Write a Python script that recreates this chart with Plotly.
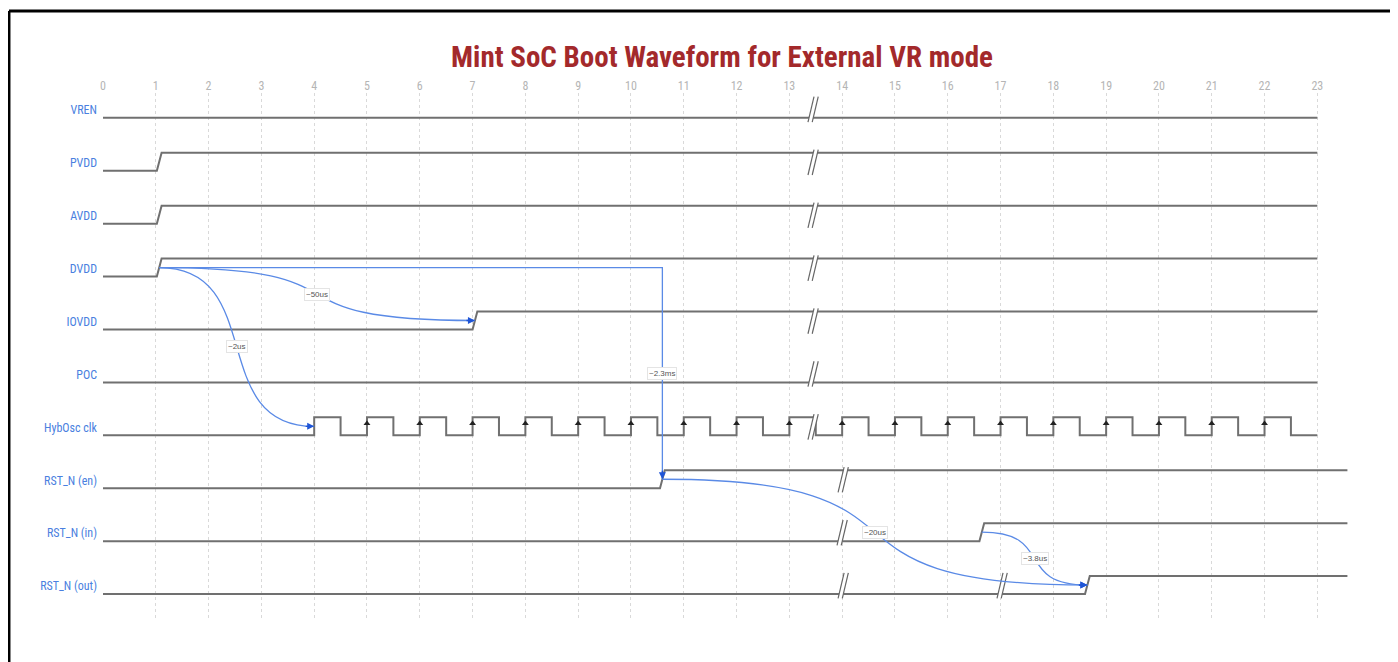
import plotly.graph_objects as go

# ---------------- data ----------------
signals = ["VREN", "PVDD", "AVDD", "DVDD", "IOVDD", "POC", "HybOsc clk",
           "RST_N (en)", "RST_N (in)", "RST_N (out)"]
rise_time = [None, 1.02, 1.02, 1.02, 7.0, None, None, 10.55, 16.6, 18.6]
end_time = [23, 23, 23, 23, 23, 23, 23, 23.57, 23.57, 23.57]
clk_row = "HybOsc clk"
clk_rise = [4, 5, 6, 7, 8, 9, 10, 11, 12, 13, 14, 15, 16, 17, 18, 19, 20, 21, 22]
clk_fall = [4.5, 5.5, 6.5, 7.5, 8.5, 9.5, 10.5, 11.5, 12.5, 13.5, 14.5, 15.5,
            16.5, 17.5, 18.5, 19.5, 20.5, 21.5, 22.5]
break_times = [[13.45], [13.45], [13.45], [13.45], [13.45], [13.45], [13.45],
               [14.02], [14.0], [14.02, 17.03]]

arrow_from = ["DVDD", "DVDD", "DVDD", "RST_N (en)", "RST_N (in)"]
arrow_to = ["IOVDD", "HybOsc clk", "RST_N (en)", "RST_N (out)", "RST_N (out)"]
arrow_style = ["~", "~", "-|", "~", "~"]
arrow_label = ["~50us", "~2us", "~2.3ms", "~20us", "~3.8us"]

time_ticks = list(range(0, 24))
title_text = "Mint SoC Boot Waveform for External VR mode"

# ---------------- style ----------------
HIGH = 0.34
RAMP = 0.09
WAVE_COLOR = "#707070"
ARC_COLOR = "#5a8ae6"
HEAD_COLOR = "#1f55d6"
LABEL_BLUE = "#4a7fe0"
NARROW = "Liberation Sans Narrow, Arial Narrow, Roboto Condensed, Liberation Sans, sans-serif"

OFF = 8  # page body margin
FIG_W, FIG_H = 1398 - OFF, 662 - OFF
L, T = 103 - OFF, 93 - OFF
R, B = 49.4, 42
PW, PH = FIG_W - L - R, FIG_H - T - B


def ylev(row, level):
    return -row + level * HIGH


def edge_point(name):
    r = signals.index(name)
    if name == clk_row:
        return clk_rise[0], ylev(r, 0.5)
    return rise_time[r] + RAMP / 2, ylev(r, 0.5)


fig = go.Figure()

# waveforms
for r, name in enumerate(signals):
    xs, ys = [0], [ylev(r, 0)]
    if name == clk_row:
        for tr, tf in zip(clk_rise, clk_fall):
            xs += [tr, tr, tf, tf]
            ys += [ylev(r, 0), ylev(r, 1), ylev(r, 1), ylev(r, 0)]
        xs.append(end_time[r]); ys.append(ylev(r, 0))
    else:
        if rise_time[r] is not None:
            xs += [rise_time[r], rise_time[r] + RAMP, end_time[r]]
            ys += [ylev(r, 0), ylev(r, 1), ylev(r, 1)]
        else:
            xs.append(end_time[r]); ys.append(ylev(r, 0))
    fig.add_trace(go.Scatter(x=xs, y=ys, mode="lines",
                             line=dict(color=WAVE_COLOR, width=2),
                             hoverinfo="skip", showlegend=False))

# clock edge arrows
rc = signals.index(clk_row)
fig.add_trace(go.Scatter(x=clk_rise[1:], y=[ylev(rc, 0.66)] * (len(clk_rise) - 1),
                         mode="markers",
                         marker=dict(symbol="triangle-up", size=6, color="#222"),
                         hoverinfo="skip", showlegend=False))

shapes = []
# break marks
for r, bl in enumerate(break_times):
    bot, top = ylev(r, 0) - 0.08, ylev(r, 1) + 0.06
    for t in bl:
        s, g = 0.057, 0.04
        shapes.append(dict(type="path", xref="x", yref="y", layer="above",
                           path=f"M {t-s-g},{bot} L {t+s-g},{top} L {t+s+g},{top} L {t-s+g},{bot} Z",
                           fillcolor="white", line=dict(width=0)))
        for off in (-g, g):
            shapes.append(dict(type="line", xref="x", yref="y", layer="above",
                               x0=t - s + off, y0=bot, x1=t + s + off, y1=top,
                               line=dict(color="#666", width=1.2)))

annotations = []
# arcs
for fr, to, st, lab in zip(arrow_from, arrow_to, arrow_style, arrow_label):
    fx, fy = edge_point(fr)
    tx, ty = edge_point(to)
    dx, dy = tx - fx, ty - fy
    if st == "~":
        path = (f"M {fx},{fy} C {fx+0.7*dx},{fy} {fx+0.3*dx},{ty} {tx},{ty}")
        lx, ly = fx + dx / 2, fy + dy / 2
        ax, ay = -10, 0
    else:
        path = f"M {fx},{fy} L {tx},{fy} L {tx},{ty}"
        lx, ly = tx, fy + dy / 2
        ax, ay = 0, -10
    shapes.append(dict(type="path", xref="x", yref="y", layer="above", path=path,
                       line=dict(color=ARC_COLOR, width=1.3)))
    annotations.append(dict(x=tx, y=ty, xref="x", yref="y", text="", showarrow=True,
                            ax=ax, ay=ay, arrowhead=2, arrowsize=1, arrowwidth=1.4,
                            arrowcolor=HEAD_COLOR, standoff=0))
    annotations.append(dict(x=lx, y=ly, xref="x", yref="y", text=lab, showarrow=False,
                            font=dict(size=8, color="#555", family="Liberation Sans, Arial, sans-serif"),
                            bgcolor="white", bordercolor="#e4e4e4", borderwidth=1, borderpad=1))


def px2x(px):
    return (px - OFF - L) / PW


def py2y(py):
    return (T + PH - (py - OFF)) / PH


# outer frame (top + left)
shapes.append(dict(type="line", xref="paper", yref="paper",
                   x0=px2x(9), y0=py2y(11), x1=px2x(1420), y1=py2y(11),
                   line=dict(color="black", width=3)))
shapes.append(dict(type="line", xref="paper", yref="paper",
                   x0=px2x(9), y0=py2y(11), x1=px2x(9), y1=py2y(700),
                   line=dict(color="black", width=3)))

fig.update_layout(
    width=FIG_W, height=FIG_H,
    margin=dict(l=L, r=R, t=T, b=B, autoexpand=False),
    paper_bgcolor="white", plot_bgcolor="white",
    title=dict(text=f"<b>{title_text}</b>", x=(722 - OFF) / FIG_W, xref="container",
               y=1 - (57 - OFF) / FIG_H, yref="container", xanchor="center", yanchor="middle",
               font=dict(family=NARROW, size=29, color="#a3292b")),
    shapes=shapes, annotations=annotations,
    xaxis=dict(range=[0, 23.6], side="top", tickvals=time_ticks,
               ticktext=[str(v) for v in time_ticks],
               showgrid=True, gridcolor="#d9d9d9", griddash="dot", gridwidth=1,
               zeroline=False, showline=False, ticks="",
               tickfont=dict(family=NARROW, size=12, color="#b5b5b5")),
    yaxis=dict(range=[-9.49, 0.47], tickvals=[ylev(r, 0) + 0.15 for r in range(len(signals))],
               ticktext=signals, showgrid=False, zeroline=False, showline=False,
               ticks="", ticklabelstandoff=5,
               tickfont=dict(family=NARROW, size=12, color=LABEL_BLUE)),
)

fig.write_html("out.html")
